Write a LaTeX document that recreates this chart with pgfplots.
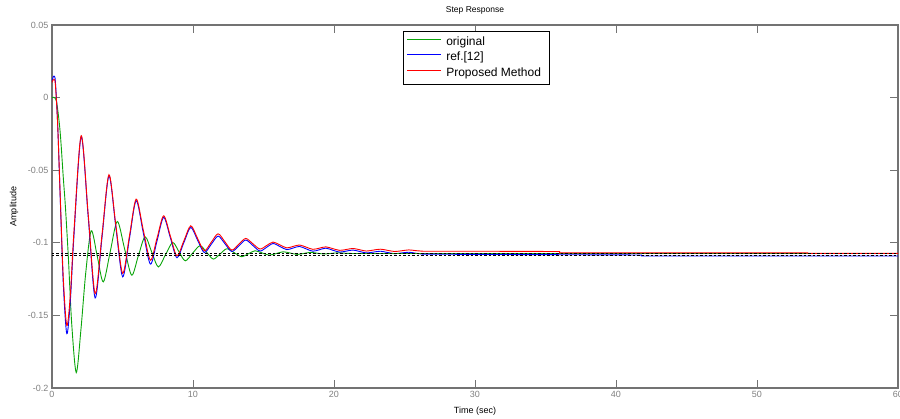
\documentclass[border=0pt]{standalone}
\usepackage{fontspec}
\setmainfont{Liberation Sans}
\usepackage{pgfplots}
\pgfplotsset{compat=1.18}
\definecolor{axgray}{rgb}{0.45,0.45,0.45}
\definecolor{lblgray}{rgb}{0.5,0.5,0.5}
\definecolor{mgreen}{RGB}{10,165,10}
\begin{document}
\begin{tikzpicture}
\begin{axis}[
  width=846pt, height=363pt, scale only axis,
  xmin=0, xmax=60, ymin=-0.2, ymax=0.05,
  xtick={0,10,20,30,40,50,60},
  xticklabels={0,10,20,30,40,50,60},
  ytick={-0.2,-0.15,-0.1,-0.05,0,0.05},
  yticklabels={-0.2,-0.15,-0.1,-0.05,0,0.05},
  tick align=inside, xtick pos=both, ytick pos=both,
  major tick length=8pt,
  axis line style={draw=axgray, line width=1.3pt},
  every tick/.style={draw=axgray, line width=0.8pt},
  tick label style={font=\fontsize{9}{10}\selectfont, text=lblgray},
  title={Step Response},
  every axis title shift=0pt,
  title style={at={(axis description cs:0.5,1.0413)}, anchor=center, font=\fontsize{8.5}{10}\selectfont},
  xlabel={Time (sec)},
  xlabel style={at={(axis description cs:0.5,-0.0645)}, anchor=center, font=\fontsize{9}{10}\selectfont},
  ylabel={Amplitude},
  ylabel style={at={(axis description cs:-0.0449,0.5)}, anchor=center, font=\fontsize{9}{10}\selectfont},
  legend style={at={(axis description cs:0.4149,0.9835)}, anchor=north west,
    draw=black, line width=0.8pt, fill=white,
    inner xsep=3.5pt, inner ysep=3.5pt, row sep=0pt,
    font=\fontsize{12}{14}\selectfont,
    nodes={inner ysep=0pt, inner xsep=4.5pt, text height=10.5pt, text depth=5pt}},
  legend cell align=left,
  legend image code/.code={\draw[#1] (0pt,3.5pt) -- (34pt,3.5pt);},
]
\addplot[color=mgreen, draw=mgreen, line width=0.9pt, smooth] coordinates {
(0,0) (0.3,-0.002) (0.57,-0.0228) (0.8,-0.055) (0.95,-0.075) (1.16,-0.11) (1.4,-0.156) (1.72,-0.1894) (2.05,-0.16) (2.39,-0.121) (2.78,-0.0917) (3.21,-0.1093) (3.64,-0.1269) (4.13,-0.1061) (4.63,-0.0853) (5.14,-0.1038) (5.65,-0.1223) (6.12,-0.1091) (6.6,-0.0959) (7.07,-0.1063) (7.54,-0.1166) (8.05,-0.1082) (8.56,-0.0998) (9.0,-0.1061) (9.45,-0.1124) (9.97,-0.1072) (10.5,-0.102) (10.97,-0.1066) (11.44,-0.1112) (11.92,-0.1077) (12.4,-0.1041) (12.92,-0.1068) (13.45,-0.1096) (13.92,-0.1076) (14.4,-0.1055) (14.9,-0.107) (15.4,-0.1085) (15.9,-0.1074) (16.4,-0.1062) (16.9,-0.1071) (17.4,-0.108) (17.87,-0.1073) (18.35,-0.1066) (18.82,-0.1072) (19.3,-0.1077) (19.8,-0.1073) (20.3,-0.1069) (21,-0.1073) (22,-0.1074)
};
\addplot[color=blue, draw=blue, line width=0.9pt, smooth] coordinates {
(0,0.011) (0.07,0.0138) (0.15,0.0148) (0.24,0.011) (0.4,-0.018) (0.6,-0.0739) (0.8,-0.128) (1.05,-0.1626) (1.3,-0.14) (1.56,-0.0948) (2.07,-0.027) (2.57,-0.0825) (3.06,-0.138) (3.55,-0.096) (4.04,-0.054) (4.52,-0.0887) (5.01,-0.1234) (5.49,-0.0972) (5.97,-0.071) (6.47,-0.0929) (6.98,-0.1147) (7.45,-0.0986) (7.92,-0.0825) (8.39,-0.0964) (8.86,-0.1103) (9.35,-0.0999) (9.84,-0.0894) (10.32,-0.0981) (10.8,-0.1067) (11.29,-0.1011) (11.78,-0.0954) (12.27,-0.1007) (12.75,-0.106) (13.25,-0.1021) (13.74,-0.0981) (14.25,-0.1019) (14.75,-0.1057) (15.22,-0.1031) (15.68,-0.1005) (16.17,-0.1026) (16.65,-0.1047) (17.1,-0.1036) (17.55,-0.1025) (18.03,-0.1042) (18.5,-0.1058) (18.96,-0.1048) (19.42,-0.1037) (19.91,-0.1051) (20.4,-0.1064) (20.88,-0.1057) (21.35,-0.105) (21.83,-0.106) (22.3,-0.107) (22.8,-0.1064) (23.3,-0.1058) (23.8,-0.1067) (24.3,-0.1075) (24.8,-0.107) (25.3,-0.1065) (25.8,-0.1072) (26.3,-0.1078)
};
\addplot[color=red, draw=red, line width=0.9pt, smooth] coordinates {
(0,0.0105) (0.07,0.0121) (0.15,0.0125) (0.24,0.009) (0.4,-0.018) (0.6,-0.0723) (0.8,-0.124) (1.05,-0.157) (1.3,-0.136) (1.56,-0.0916) (2.07,-0.0262) (2.57,-0.0806) (3.06,-0.135) (3.55,-0.0941) (4.04,-0.0531) (4.52,-0.0871) (5.01,-0.121) (5.49,-0.0955) (5.97,-0.0699) (6.47,-0.091) (6.98,-0.112) (7.45,-0.0967) (7.92,-0.0814) (8.39,-0.0952) (8.86,-0.109) (9.35,-0.0987) (9.84,-0.0883) (10.32,-0.0969) (10.8,-0.1055) (11.29,-0.0997) (11.78,-0.0938) (12.27,-0.0994) (12.75,-0.105) (13.25,-0.101) (13.74,-0.097) (14.25,-0.1007) (14.75,-0.1043) (15.22,-0.1019) (15.68,-0.0995) (16.17,-0.1015) (16.65,-0.1035) (17.1,-0.1025) (17.55,-0.1015) (18.03,-0.103) (18.5,-0.1045) (18.96,-0.1037) (19.42,-0.1028) (19.91,-0.104) (20.4,-0.1052) (20.88,-0.1046) (21.35,-0.1039) (21.83,-0.1048) (22.3,-0.1057) (22.8,-0.105) (23.3,-0.1044) (23.8,-0.1052) (24.3,-0.106) (24.8,-0.1055) (25.3,-0.1049) (25.8,-0.1054) (26.3,-0.1058)
};
\addplot[color=mgreen, draw=mgreen, line width=0.9pt, forget plot] coordinates {(22,-0.1074) (60,-0.1074)};
\addplot[color=blue, draw=blue, line width=0.9pt, forget plot] coordinates {(26.3,-0.1078) (30,-0.108) (41.8,-0.1084) (41.8,-0.1091) (60,-0.1091)};
\addplot[color=red, draw=red, line width=0.9pt, forget plot] coordinates {(26.3,-0.1058) (30,-0.1058) (36,-0.106) (36,-0.1069) (53.6,-0.1069) (53.6,-0.1073) (60,-0.1073)};
\addplot[black, line width=1.1pt, dash pattern=on 2.5pt off 2pt, forget plot] coordinates {(0,-0.1074) (60,-0.1074)};
\addplot[black, line width=1.1pt, dash pattern=on 2.5pt off 2pt, forget plot] coordinates {(0,-0.109) (60,-0.109)};
\legend{original,{ref.[12]},Proposed Method}
\end{axis}
\pgfresetboundingbox
\path[use as bounding box] (-52pt,-31pt) rectangle (848pt,388pt);
\end{tikzpicture}
\end{document}
